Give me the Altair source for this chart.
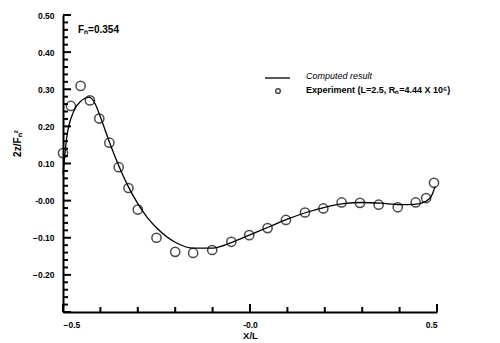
import altair as alt
import pandas as pd

# Experimental points
exp_x = [-0.500, -0.479, -0.453, -0.428, -0.403, -0.376, -0.351, -0.325, -0.300,
         -0.250, -0.200, -0.152, -0.101, -0.050, -0.002, 0.047, 0.096, 0.147,
         0.196, 0.245, 0.294, 0.344, 0.395, 0.443, 0.471, 0.492]
exp_y = [0.128, 0.255, 0.309, 0.270, 0.221, 0.156, 0.090, 0.034, -0.024,
         -0.100, -0.138, -0.141, -0.133, -0.111, -0.093, -0.074, -0.052, -0.032,
         -0.021, -0.005, -0.006, -0.011, -0.018, -0.005, 0.007, 0.048]

# Computed curve
comp_x = [-0.500, -0.490, -0.472, -0.450, -0.430, -0.414, -0.400, -0.376, -0.350,
          -0.325, -0.300, -0.275, -0.250, -0.200, -0.150, -0.100, -0.050, 0.000,
          0.050, 0.100, 0.150, 0.200, 0.250, 0.300, 0.350, 0.400, 0.440, 0.470,
          0.485, 0.495]
comp_y = [0.070, 0.170, 0.239, 0.270, 0.279, 0.261, 0.225, 0.158, 0.092,
          0.037, -0.008, -0.045, -0.073, -0.112, -0.128, -0.128, -0.113, -0.092,
          -0.071, -0.050, -0.032, -0.018, -0.008, -0.005, -0.007, -0.011, -0.010, -0.002,
          0.012, 0.038]

# Axis tick values
y_labels = [-0.2, -0.1, 0.0, 0.1, 0.2, 0.3, 0.4, 0.5]
x_labels = [-0.5, 0.0, 0.5]
y_major = [-0.3, -0.2, -0.1, 0.0, 0.1, 0.2, 0.3, 0.4, 0.5]
y_minor = [-0.28, -0.26, -0.24, -0.22, -0.18, -0.16, -0.14, -0.12, -0.08, -0.06,
           -0.04, -0.02, 0.02, 0.04, 0.06, 0.08, 0.12, 0.14, 0.16, 0.18, 0.22,
           0.24, 0.26, 0.28, 0.32, 0.34, 0.36, 0.38, 0.42, 0.44, 0.46, 0.48]
x_major = [-0.5, 0.0, 0.5]
x_minor = [-0.4, -0.3, -0.2, -0.1, 0.1, 0.2, 0.3, 0.4]

FONT = "Liberation Sans"

exp_df = pd.DataFrame({"x": exp_x, "y": exp_y})
comp_df = pd.DataFrame({"x": comp_x, "y": comp_y})

xs = alt.Scale(domain=[-0.5, 0.5], nice=False, zero=False)
ys = alt.Scale(domain=[-0.3, 0.5], nice=False, zero=False)

x_axis = alt.Axis(values=x_labels, ticks=False, grid=False, domainWidth=2,
                  domainColor="black",
                  labelExpr="datum.value == 0 ? '-0.0' : format(datum.value, '.1f')",
                  labelFont=FONT, labelFontWeight="bold", labelFontSize=8.5,
                  labelColor="black", labelPadding=8,
                  title="X/L", titleFont=FONT, titleFontWeight="bold",
                  titleFontSize=9.5, titleColor="black", titlePadding=2)
y_axis = alt.Axis(values=y_labels, ticks=False, grid=False, domainWidth=2,
                  domainColor="black",
                  labelExpr="datum.value == 0 ? '-0.00' : format(datum.value, '.2f')",
                  labelFont=FONT, labelFontWeight="bold", labelFontSize=8.5,
                  labelColor="black", labelPadding=9,
                  title="2z/Fₙ²", titleFont=FONT, titleFontWeight="bold",
                  titleFontSize=10, titleColor="black", titleX=-41, titleY=128,
                  titleAlign="center")

line = alt.Chart(comp_df).mark_line(color="black", strokeWidth=1.3,
                                    interpolate="monotone").encode(
    x=alt.X("x:Q", scale=xs, axis=x_axis),
    y=alt.Y("y:Q", scale=ys, axis=y_axis),
)
pts = alt.Chart(exp_df).mark_point(shape="circle", filled=False, color="black",
                                   size=85, strokeWidth=1.5).encode(
    x=alt.X("x:Q", scale=xs), y=alt.Y("y:Q", scale=ys))

# inward ticks: centred on the axis line, then shifted into the plot
ymaj = alt.Chart(pd.DataFrame({"ty": y_major})).mark_tick(
    orient="horizontal", color="black", thickness=2, size=8, opacity=1,
    xOffset=4).encode(
    y=alt.Y("ty:Q", scale=ys), x=alt.value(0))
ymin = alt.Chart(pd.DataFrame({"ty": y_minor})).mark_tick(
    orient="horizontal", color="black", thickness=2, size=5, opacity=1,
    xOffset=2.5).encode(
    y=alt.Y("ty:Q", scale=ys), x=alt.value(0))
xmaj = alt.Chart(pd.DataFrame({"tx": x_major})).mark_tick(
    orient="vertical", color="black", thickness=2, size=8, opacity=1,
    yOffset=-4).encode(
    x=alt.X("tx:Q", scale=xs), y=alt.value(297))
xmin = alt.Chart(pd.DataFrame({"tx": x_minor})).mark_tick(
    orient="vertical", color="black", thickness=2, size=5, opacity=1,
    yOffset=-2.5).encode(
    x=alt.X("tx:Q", scale=xs), y=alt.value(297))

fn_text = alt.Chart(pd.DataFrame({"t": ["Fₙ=0.354"]})).mark_text(
    font=FONT, fontWeight="bold", fontSize=10, align="left", baseline="middle",
    color="black").encode(text="t:N", x=alt.value(15), y=alt.value(15))

leg_line = alt.Chart(pd.DataFrame({"a": [0]})).mark_rule(color="black", strokeWidth=1.3).encode(
    x=alt.value(202), x2=alt.value(227), y=alt.value(63))
leg_pt = alt.Chart(pd.DataFrame({"a": [0]})).mark_point(
    shape="circle", filled=False, color="black", size=22, strokeWidth=1.5).encode(
    x=alt.value(215), y=alt.value(76))
leg_t1 = alt.Chart(pd.DataFrame({"t": ["Computed result"]})).mark_text(
    font=FONT, fontStyle="italic", fontSize=9, align="left", baseline="middle",
    color="black").encode(text="t:N", x=alt.value(243), y=alt.value(61))
leg_t2 = alt.Chart(pd.DataFrame({"t": ["Experiment (L=2.5, Rₙ=4.44 X 10⁶)"]})).mark_text(
    font=FONT, fontWeight="bold", fontSize=9, align="left", baseline="middle",
    color="black").encode(text="t:N", x=alt.value(243), y=alt.value(75))

chart = alt.layer(line, pts, ymaj, ymin, xmaj, xmin, fn_text, leg_line, leg_pt,
                  leg_t1, leg_t2).properties(
    width=374, height=297,
    autosize=alt.AutoSizeParams(type="none"),
    padding={"left": 55, "top": 7, "right": 55, "bottom": 31},
).configure_view(stroke=None)

chart.save("out.html", embed_options={"renderer": "svg", "actions": False})
